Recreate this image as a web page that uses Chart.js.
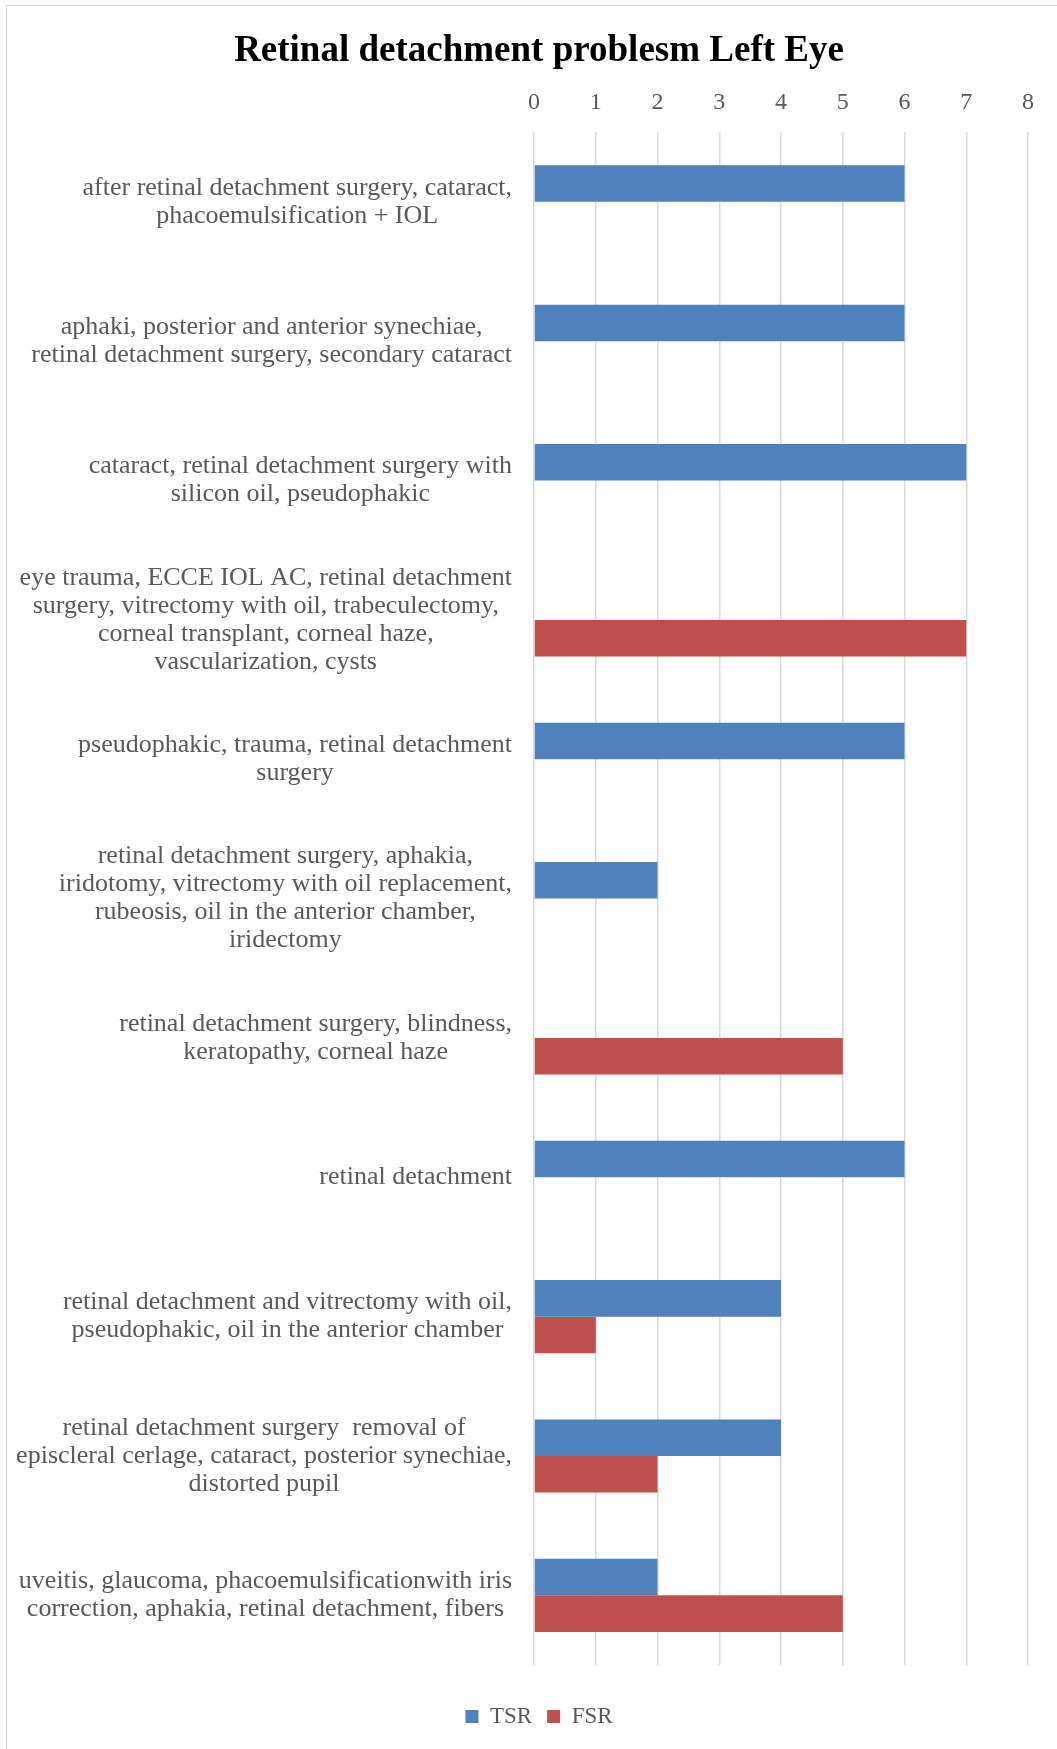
<!DOCTYPE html>
<html>
<head>
<meta charset="utf-8">
<script src="https://cdn.jsdelivr.net/npm/chart.js@4.4.1/dist/chart.umd.min.js"></script>
<style>
  html, body { margin: 0; padding: 0; background: #fff; }
  #wrap { position: relative; width: 1057px; height: 1749px; overflow: hidden; }
  #frame { position: absolute; left: 6px; top: 5px; width: 1100px; height: 1800px;
           border-left: 1px solid #d9d9d9; border-top: 1px solid #d9d9d9; }
  #toile { position: absolute; left: 0; top: 0; }
</style>
</head>
<body>
<div id="wrap">
  <div id="frame"></div>
  <canvas id="toile" width="1057" height="1749"></canvas>
</div>
<script>
const problemes = [
  ['after retinal detachment surgery, cataract,', 'phacoemulsification + IOL'],
  ['aphaki, posterior and anterior synechiae,', 'retinal detachment surgery, secondary cataract'],
  ['cataract, retinal detachment surgery with', 'silicon oil, pseudophakic'],
  ['eye trauma, ECCE IOL AC, retinal detachment', 'surgery, vitrectomy with oil, trabeculectomy,', 'corneal transplant, corneal haze,', 'vascularization, cysts'],
  ['pseudophakic, trauma, retinal detachment', 'surgery'],
  ['retinal detachment surgery, aphakia,', 'iridotomy, vitrectomy with oil replacement,', 'rubeosis, oil in the anterior chamber,', 'iridectomy'],
  ['retinal detachment surgery, blindness,', 'keratopathy, corneal haze'],
  ['retinal detachment'],
  ['retinal detachment and vitrectomy with oil,', 'pseudophakic, oil in the anterior chamber'],
  ['retinal detachment surgery  removal of', 'episcleral cerlage, cataract, posterior synechiae,', 'distorted pupil'],
  ['uveitis, glaucoma, phacoemulsificationwith iris', 'correction, aphakia, retinal detachment, fibers']
]

const tsr = [6, 6, 7, 0, 6, 2, 0, 6, 4, 4, 2]
const fsr = [0, 0, 0, 7, 0, 0, 5, 0, 1, 2, 5]

const ticksX = [0, 1, 2, 3, 4, 5, 6, 7, 8]

const gris = '#595959'
const serif = "'Liberation Serif', 'Times New Roman', serif"

// category labels: each block right-aligned to the axis, lines centred inside the block
const etiquettes = {
  id: 'etiquettes',
  afterDraw(chart) {
    const ctx = chart.ctx
    const y = chart.scales.y
    const droite = chart.chartArea.left - 22
    const interligne = 28
    ctx.save()
    ctx.font = `26px ${serif}`
    ctx.fillStyle = gris
    ctx.textAlign = 'center'
    ctx.textBaseline = 'middle'
    problemes.forEach((lignes, i) => {
      const large = Math.max(...lignes.map(l => ctx.measureText(l).width))
      const cx = droite - large / 2
      const cy = y.getPixelForValue(i)
      const debut = cy - (lignes.length - 1) * interligne / 2
      lignes.forEach((l, k) => ctx.fillText(l, cx, debut + k * interligne))
    })
    ctx.restore()
  }
}

const data = {
  labels: problemes.map(p => p.join(' ')),
  datasets: [
    { label: 'TSR', data: tsr, backgroundColor: '#4f81bd' },
    { label: 'FSR', data: fsr, backgroundColor: '#c0504d' }
  ]
}

const config = {
  type: 'bar',
  data: data,
  plugins: [etiquettes],
  options: {
    indexAxis: 'y',
    responsive: false,
    animation: false,
    categoryPercentage: 0.525,
    barPercentage: 1,
    layout: { padding: { left: 50, right: 29, top: 0, bottom: 11 } },
    plugins: {
      title: {
        display: true,
        text: 'Retinal detachment problesm Left Eye',
        color: '#000',
        font: { family: serif, size: 37, weight: 'bold' },
        padding: { top: 29, bottom: 0 }
      },
      legend: {
        position: 'bottom',
        title: { display: true, text: '', font: { size: 10 }, padding: { top: 13, bottom: 0 } },
        labels: {
          boxWidth: 13,
          boxHeight: 13,
          padding: 15,
          color: gris,
          font: { family: serif, size: 23 }
        }
      },
      tooltip: { enabled: false }
    },
    scales: {
      x: {
        position: 'top',
        min: 0,
        max: 8,
        afterBuildTicks: (scale) => { scale.ticks = ticksX.map(v => ({ value: v })) },
        grid: { color: '#d9d9d9', lineWidth: 1.5, drawTicks: false },
        border: { display: false },
        ticks: { color: gris, padding: 15, font: { family: serif, size: 24 } }
      },
      y: {
        grid: { display: false },
        border: { display: false },
        ticks: { display: false },
        afterFit: (scale) => { scale.width = 484 }
      }
    }
  }
}

new Chart(document.getElementById('toile'), config)
</script>
</body>
</html>
